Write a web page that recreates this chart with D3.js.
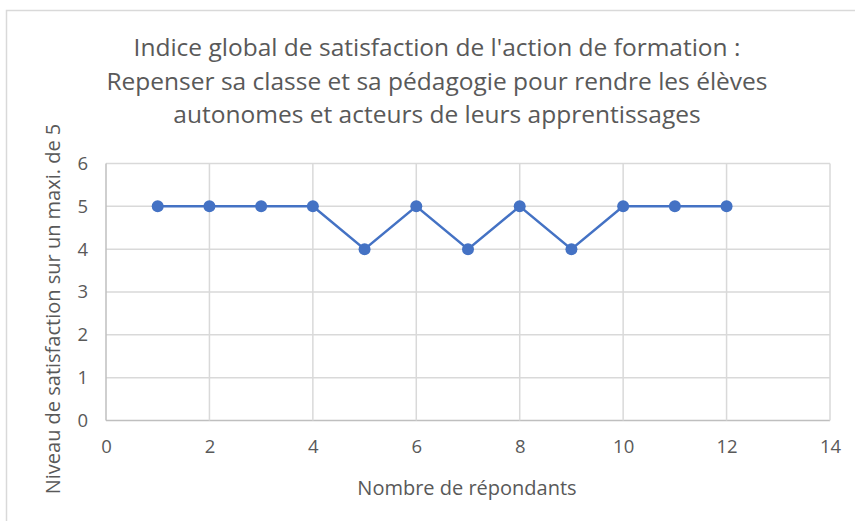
<!DOCTYPE html>
<html><head><meta charset="utf-8">
<script src="https://cdn.jsdelivr.net/npm/d3@7"></script>
<style>body{margin:0;background:#fff;}svg{display:block;font-family:"Open Sans",sans-serif;}</style>
</head><body><div id="chart"></div>
<script>
const respondents = [1,2,3,4,5,6,7,8,9,10,11,12];
const scores = [5,5,5,5,4,5,4,5,4,5,5,5];
const xTicks = [0,2,4,6,8,10,12,14];
const yTicks = [0,1,2,3,4,5,6];
const titleLines = ["Indice global de satisfaction de l'action de formation :",
  "Repenser sa classe et sa pédagogie pour rendre les élèves",
  "autonomes et acteurs de leurs apprentissages"];
const xLabel = "Nombre de répondants";
const yLabel = "Niveau de satisfaction sur un maxi. de 5";

const W = 855, H = 521;
const m = {left:106, right:830, top:163.5, bottom:420.5};
const svg = d3.select("#chart").append("svg").attr("width",W).attr("height",H);
svg.append("rect").attr("x",6.5).attr("y",10.5).attr("width",W+10).attr("height",H+10)
  .attr("fill","#fff").attr("stroke","#d9d9d9").attr("stroke-width",1.5);

const x = d3.scaleLinear().domain([0,14]).range([m.left,m.right]);
const y = d3.scaleLinear().domain([0,6]).range([m.bottom,m.top]);

// grid
svg.append("g").selectAll("line").data(yTicks).join("line")
  .attr("x1",m.left).attr("x2",m.right).attr("y1",d=>y(d)).attr("y2",d=>y(d))
  .attr("stroke",d=>d===0?"#bfbfbf":"#d9d9d9").attr("stroke-width",1.5);
svg.append("g").selectAll("line").data(xTicks).join("line")
  .attr("y1",m.top).attr("y2",m.bottom).attr("x1",d=>x(d)).attr("x2",d=>x(d))
  .attr("stroke",d=>d===0?"#bfbfbf":"#d9d9d9").attr("stroke-width",1.5);

// axes labels
const xAxis = svg.append("g").attr("transform",`translate(0,${m.bottom})`)
  .call(d3.axisBottom(x).tickValues(xTicks).tickFormat(d3.format("d")).tickSize(0).tickPadding(19));
const yAxis = svg.append("g").attr("transform",`translate(${m.left},0)`)
  .call(d3.axisLeft(y).tickValues(yTicks).tickFormat(d3.format("d")).tickSize(0).tickPadding(18));
[xAxis,yAxis].forEach(a=>{a.select(".domain").remove();
  a.selectAll("text").attr("font-size",18.5).attr("fill","#595959").attr("font-family","Open Sans, sans-serif");});

// line
svg.append("path").datum(respondents.map((r,i)=>[r,scores[i]]))
  .attr("fill","none").attr("stroke","#4472C4").attr("stroke-width",2.5)
  .attr("d",d3.line().x(d=>x(d[0])).y(d=>y(d[1])));
svg.append("g").selectAll("circle").data(respondents).join("circle")
  .attr("cx",d=>x(d)).attr("cy",(d,i)=>y(scores[i])).attr("r",6).attr("fill","#4472C4");

// title
const t = svg.append("g");
titleLines.forEach((l,i)=>{
  t.append("text").attr("x",437).attr("y",56+i*33.5).attr("text-anchor","middle")
   .attr("font-size",24.5).attr("fill","#595959").text(l);
});
svg.append("text").attr("x",467).attr("y",495).attr("text-anchor","middle")
  .attr("font-size",20).attr("fill","#595959").text(xLabel);
svg.append("text").attr("transform","translate(60,309) rotate(-90)").attr("text-anchor","middle")
  .attr("font-size",20).attr("fill","#595959").text(yLabel);
</script></body></html>
